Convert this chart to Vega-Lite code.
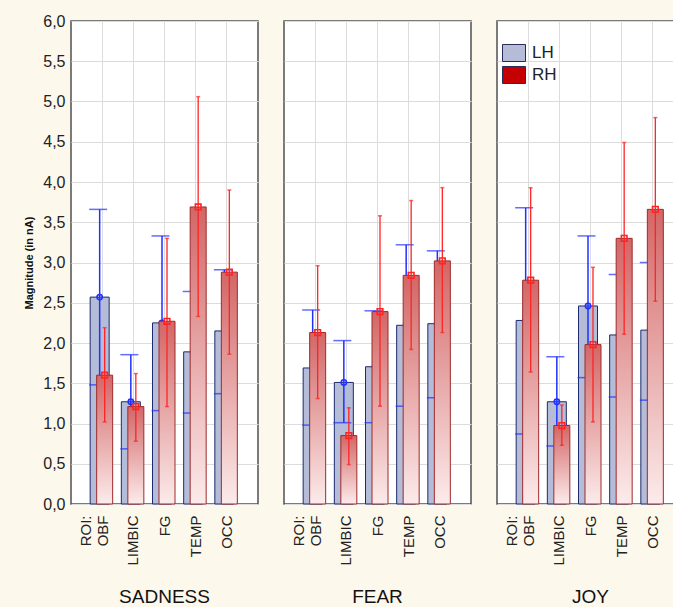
{
  "$schema": "https://vega.github.io/schema/vega-lite/v6.json",
  "background": "#fdf8ec",
  "padding": {"left": 23, "top": 13, "right": 0, "bottom": 0},
  "data": {"values": [
    {"emotion": "SADNESS", "roi": "OBF", "hemi": "LH", "mean": 2.57, "lo": 1.48, "hi": 3.66},
    {"emotion": "SADNESS", "roi": "OBF", "hemi": "RH", "mean": 1.60, "lo": 1.02, "hi": 2.19},
    {"emotion": "SADNESS", "roi": "LIMBIC", "hemi": "LH", "mean": 1.27, "lo": 0.685, "hi": 1.855},
    {"emotion": "SADNESS", "roi": "LIMBIC", "hemi": "RH", "mean": 1.21, "lo": 0.78, "hi": 1.62},
    {"emotion": "SADNESS", "roi": "FG", "hemi": "LH", "mean": 2.25, "lo": 1.16, "hi": 3.33},
    {"emotion": "SADNESS", "roi": "FG", "hemi": "RH", "mean": 2.27, "lo": 1.21, "hi": 3.30},
    {"emotion": "SADNESS", "roi": "TEMP", "hemi": "LH", "mean": 1.89, "lo": 1.13, "hi": 2.64},
    {"emotion": "SADNESS", "roi": "TEMP", "hemi": "RH", "mean": 3.69, "lo": 2.33, "hi": 5.06},
    {"emotion": "SADNESS", "roi": "OCC", "hemi": "LH", "mean": 2.15, "lo": 1.37, "hi": 2.91},
    {"emotion": "SADNESS", "roi": "OCC", "hemi": "RH", "mean": 2.88, "lo": 1.86, "hi": 3.90},
    {"emotion": "FEAR", "roi": "OBF", "hemi": "LH", "mean": 1.69, "lo": 0.98, "hi": 2.41},
    {"emotion": "FEAR", "roi": "OBF", "hemi": "RH", "mean": 2.13, "lo": 1.31, "hi": 2.96},
    {"emotion": "FEAR", "roi": "LIMBIC", "hemi": "LH", "mean": 1.51, "lo": 1.01, "hi": 2.03},
    {"emotion": "FEAR", "roi": "LIMBIC", "hemi": "RH", "mean": 0.85, "lo": 0.49, "hi": 1.195},
    {"emotion": "FEAR", "roi": "FG", "hemi": "LH", "mean": 1.705, "lo": 1.01, "hi": 2.40},
    {"emotion": "FEAR", "roi": "FG", "hemi": "RH", "mean": 2.39, "lo": 1.215, "hi": 3.58},
    {"emotion": "FEAR", "roi": "TEMP", "hemi": "LH", "mean": 2.22, "lo": 1.215, "hi": 3.22},
    {"emotion": "FEAR", "roi": "TEMP", "hemi": "RH", "mean": 2.84, "lo": 1.92, "hi": 3.77},
    {"emotion": "FEAR", "roi": "OCC", "hemi": "LH", "mean": 2.24, "lo": 1.32, "hi": 3.145},
    {"emotion": "FEAR", "roi": "OCC", "hemi": "RH", "mean": 3.02, "lo": 2.13, "hi": 3.93},
    {"emotion": "JOY", "roi": "OBF", "hemi": "LH", "mean": 2.28, "lo": 0.87, "hi": 3.68},
    {"emotion": "JOY", "roi": "OBF", "hemi": "RH", "mean": 2.78, "lo": 1.64, "hi": 3.93},
    {"emotion": "JOY", "roi": "LIMBIC", "hemi": "LH", "mean": 1.27, "lo": 0.72, "hi": 1.83},
    {"emotion": "JOY", "roi": "LIMBIC", "hemi": "RH", "mean": 0.975, "lo": 0.73, "hi": 1.23},
    {"emotion": "JOY", "roi": "FG", "hemi": "LH", "mean": 2.46, "lo": 1.57, "hi": 3.33},
    {"emotion": "JOY", "roi": "FG", "hemi": "RH", "mean": 1.98, "lo": 1.02, "hi": 2.94},
    {"emotion": "JOY", "roi": "TEMP", "hemi": "LH", "mean": 2.10, "lo": 1.33, "hi": 2.85},
    {"emotion": "JOY", "roi": "TEMP", "hemi": "RH", "mean": 3.30, "lo": 2.11, "hi": 4.49},
    {"emotion": "JOY", "roi": "OCC", "hemi": "LH", "mean": 2.16, "lo": 1.29, "hi": 3.00},
    {"emotion": "JOY", "roi": "OCC", "hemi": "RH", "mean": 3.66, "lo": 2.52, "hi": 4.80}
  ]},
  "facet": {
    "column": {
      "field": "emotion", "type": "nominal", "sort": ["SADNESS", "FEAR", "JOY"], "title": null,
      "header": {"labelOrient": "bottom", "labelFontSize": 19, "labelFont": "Liberation Sans", "labelColor": "#111", "labelPadding": 23}
    }
  },
  "spacing": 24,
  "spec": {
    "width": 187,
    "height": 483,
    "encoding": {
      "x": {
        "field": "roi", "type": "nominal", "sort": ["OBF", "LIMBIC", "FG", "TEMP", "OCC"],
        "scale": {"paddingInner": 0, "paddingOuter": 0.5},
        "axis": {
          "title": null, "labelAngle": -90, "labelAlign": "right", "labelBaseline": "middle",
          "labelFontSize": 15, "labelFont": "Liberation Sans", "labelColor": "#222", "labelPadding": 9,
          "ticks": false, "domain": false, "grid": true, "gridColor": "#dcdcdc",
          "labelExpr": "datum.value == 'OBF' ? ['ROI:', 'OBF'] : datum.value",
          "labelOffset": {"condition": {"test": "datum.value == 'OBF'", "value": -16}, "value": 0}
        }
      }
    },
    "layer": [
      {
        "transform": [{"filter": "datum.hemi == 'LH'"}],
        "mark": {"type": "bar", "width": 19, "xOffset": -2.5, "stroke": "#1d2a6e", "strokeWidth": 1},
        "encoding": {
          "y": {"field": "mean", "type": "quantitative", "scale": {"domain": [0, 6], "nice": false}, "title": "Magnitude (in nA)",
                "axis": {"values": [0, 0.5, 1, 1.5, 2, 2.5, 3, 3.5, 4, 4.5, 5, 5.5, 6]}},
          "fill": {"field": "hemi", "type": "nominal", "scale": {"domain": ["LH", "RH"], "range": ["#b4bcd8", "#c40000"]},
            "legend": {
              "title": null, "orient": "none", "legendX": 431, "legendY": 22,
              "labelFontSize": 17, "labelFont": "Liberation Sans", "labelColor": "#222", "labelOffset": 6,
              "symbolType": "M-1,-0.74H1V0.74H-1Z", "symbolSize": 529, "symbolStrokeColor": "#2a2a5a", "symbolStrokeWidth": 1,
              "symbolOpacity": 1, "clipHeight": 20, "rowPadding": 2
            }
          }
        }
      },
      {
        "transform": [{"filter": "datum.hemi == 'LH'"}],
        "mark": {"type": "rule", "color": "#2030ff", "strokeWidth": 1.5, "xOffset": -2.5},
        "encoding": {
          "y": {"field": "lo", "type": "quantitative", "title": "Magnitude (in nA)"},
          "y2": {"field": "hi"}
        }
      },
      {
        "transform": [{"filter": "datum.hemi == 'LH'"}, {"fold": ["lo", "hi"], "as": ["end", "val"]}],
        "mark": {"type": "tick", "color": "#2030ff", "size": 18, "thickness": 1.5, "xOffset": -4},
        "encoding": {
          "y": {"field": "val", "type": "quantitative", "title": "Magnitude (in nA)"}
        }
      },
      {
        "transform": [{"filter": "datum.hemi == 'LH'"}],
        "mark": {"type": "point", "shape": "circle", "filled": false, "color": "#2030ff", "size": 28, "strokeWidth": 1.6, "xOffset": -2.5, "opacity": 1},
        "encoding": {
          "y": {"field": "mean", "type": "quantitative", "title": "Magnitude (in nA)"}
        }
      },
      {
        "transform": [{"filter": "datum.hemi == 'RH'"}],
        "mark": {
          "type": "bar", "width": 16, "xOffset": 2.5, "stroke": "#9e2a2b", "strokeWidth": 1,
          "fill": {"gradient": "linear", "x1": 0, "y1": 0, "x2": 0, "y2": 1, "stops": [
            {"offset": 0, "color": "#d36666"}, {"offset": 1, "color": "#fcebeb"}
          ]}
        },
        "encoding": {
          "y": {"field": "mean", "type": "quantitative", "title": "Magnitude (in nA)"}
        }
      },
      {
        "transform": [{"filter": "datum.hemi == 'RH'"}],
        "mark": {"type": "rule", "color": "#ff2424", "strokeWidth": 1.3, "xOffset": 2.5},
        "encoding": {
          "y": {"field": "lo", "type": "quantitative", "title": "Magnitude (in nA)"},
          "y2": {"field": "hi"}
        }
      },
      {
        "transform": [{"filter": "datum.hemi == 'RH'"}, {"fold": ["lo", "hi"], "as": ["end", "val"]}],
        "mark": {"type": "tick", "color": "#ff2424", "size": 4, "thickness": 1.5, "xOffset": 2.5},
        "encoding": {
          "y": {"field": "val", "type": "quantitative", "title": "Magnitude (in nA)"}
        }
      },
      {
        "transform": [{"filter": "datum.hemi == 'RH'"}],
        "mark": {"type": "point", "shape": "square", "filled": false, "color": "#ff2424", "size": 32, "strokeWidth": 1.6, "xOffset": 2.5, "opacity": 1},
        "encoding": {
          "y": {"field": "mean", "type": "quantitative", "title": "Magnitude (in nA)"}
        }
      }
    ]
  },
  "config": {
    "view": {"stroke": "#505050", "strokeWidth": 1.5, "fill": "white"},
    "axisY": {
      "format": ".1f", "labelExpr": "replace(datum.label, '.', ',')",
      "labelFontSize": 16, "labelFont": "Liberation Sans", "labelColor": "#222",
      "ticks": false, "domain": false, "labelPadding": 5, "gridColor": "#dcdcdc",
      "titleFont": "Liberation Sans", "titleFontSize": 11, "titleFontWeight": "bold", "titleColor": "#111", "titlePadding": 8
    }
  }
}
